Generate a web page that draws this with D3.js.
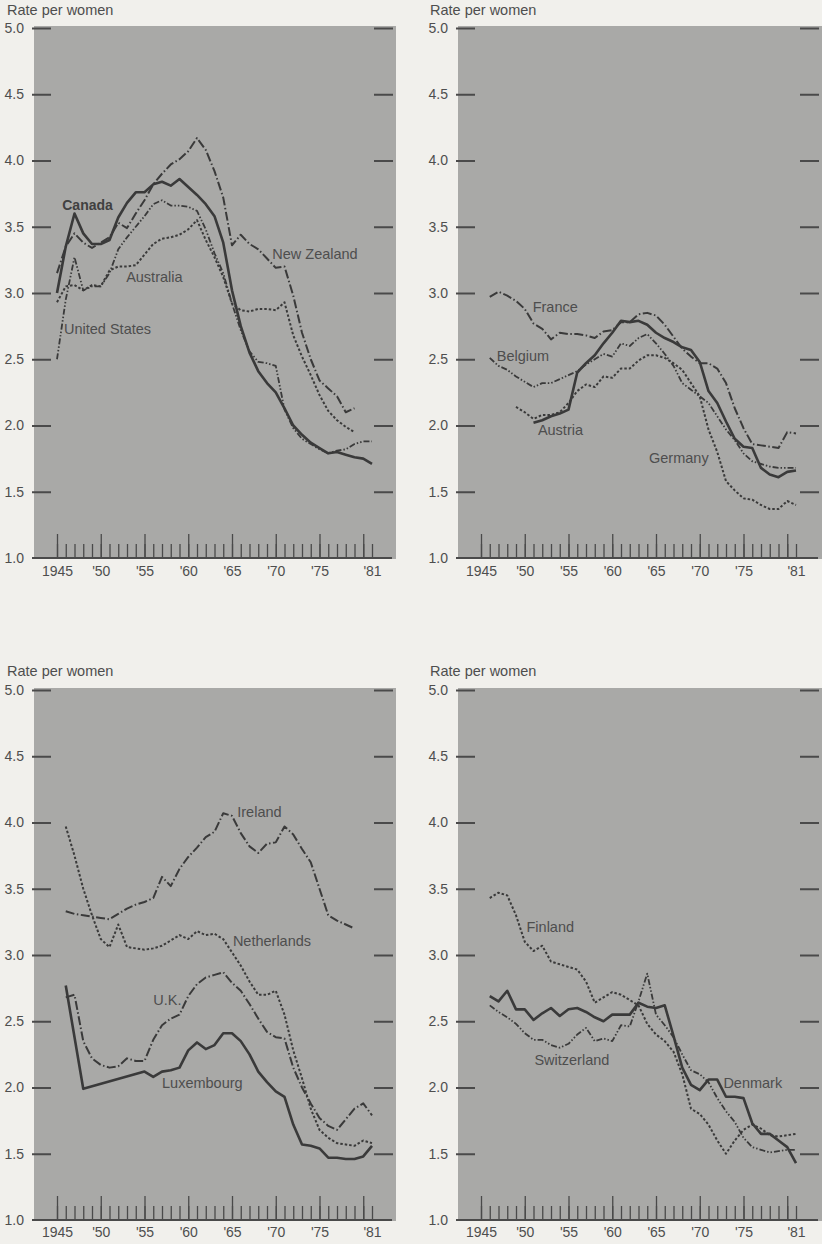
<!DOCTYPE html>
<html lang="en">
<head>
<meta charset="UTF-8">
<title>Total fertility rate, 1945-1981</title>
<script src="https://cdn.jsdelivr.net/npm/d3@7/dist/d3.min.js"></script>
<style>
    body { margin: 0; background: #f1f0ec; }
    svg { display: block; font-family: "Liberation Sans", Arial, sans-serif; }
</style>
</head>
<body>
<div id="chart"></div>
<script>
// ---- data (rate per woman, one value per year 1945..1981, null = no point) ----
const years = [1945, 1946, 1947, 1948, 1949, 1950, 1951, 1952, 1953, 1954,
               1955, 1956, 1957, 1958, 1959, 1960, 1961, 1962, 1963, 1964,
               1965, 1966, 1967, 1968, 1969, 1970, 1971, 1972, 1973, 1974,
               1975, 1976, 1977, 1978, 1979, 1980, 1981];

const yTicks = [1.0, 1.5, 2.0, 2.5, 3.0, 3.5, 4.0, 4.5, 5.0];
const xLabelYears = [1945, 1950, 1955, 1960, 1965, 1970, 1975, 1981];
const xLabels = ["1945", "'50", "'55", "'60", "'65", "'70", "'75", "'81"];
const majorYears = [1945, 1950, 1955, 1960, 1965, 1970, 1975, 1980];

// panel 1
const canada = [3.00, 3.35, 3.60, 3.45, 3.37, 3.37, 3.40, 3.57, 3.68, 3.76,
                3.76, 3.82, 3.84, 3.81, 3.86, 3.80, 3.74, 3.67, 3.58, 3.38,
                3.02, 2.75, 2.55, 2.41, 2.32, 2.25, 2.13, 2.00, 1.93, 1.87,
                1.83, 1.79, 1.80, 1.78, 1.76, 1.75, 1.71];
const unitedStates = [2.50, 2.95, 3.27, 3.02, 3.05, 3.05, 3.15, 3.33, 3.42, 3.50,
                      3.58, 3.67, 3.70, 3.66, 3.66, 3.65, 3.62, 3.48, 3.30, 3.15,
                      2.92, 2.72, 2.56, 2.48, 2.47, 2.45, 2.12, 1.98, 1.90, 1.86,
                      1.82, 1.79, 1.81, 1.82, 1.86, 1.88, 1.88];
const australia = [2.93, 3.05, 3.06, 3.02, 3.06, 3.05, 3.17, 3.20, 3.20, 3.21,
                   3.29, 3.37, 3.41, 3.42, 3.44, 3.48, 3.55, 3.40, 3.27, 3.12,
                   2.92, 2.87, 2.86, 2.88, 2.88, 2.87, 2.93, 2.68, 2.52, 2.38,
                   2.23, 2.11, 2.04, 1.99, 1.95, null, null];
const newZealand = [3.15, 3.35, 3.45, 3.38, 3.34, 3.38, 3.42, 3.53, 3.49, 3.60,
                    3.70, 3.82, 3.90, 3.97, 4.01, 4.07, 4.17, 4.08, 3.92, 3.72,
                    3.36, 3.44, 3.37, 3.33, 3.26, 3.19, 3.20, 2.98, 2.70, 2.50,
                    2.34, 2.28, 2.22, 2.10, 2.13, null, null];

// panel 2
const france = [null, 2.97, 3.01, 2.98, 2.94, 2.88, 2.77, 2.73, 2.65, 2.70,
                2.69, 2.69, 2.68, 2.66, 2.71, 2.72, 2.78, 2.78, 2.84, 2.85,
                2.83, 2.76, 2.67, 2.58, 2.52, 2.47, 2.47, 2.43, 2.32, 2.13,
                1.98, 1.86, 1.85, 1.84, 1.83, 1.95, 1.94];
const belgium = [null, 2.51, 2.45, 2.42, 2.37, 2.33, 2.29, 2.32, 2.32, 2.35,
                 2.38, 2.41, 2.46, 2.50, 2.54, 2.52, 2.62, 2.60, 2.66, 2.69,
                 2.62, 2.54, 2.45, 2.32, 2.27, 2.22, 2.17, 2.07, 1.97, 1.89,
                 1.79, 1.73, 1.71, 1.69, 1.68, 1.68, 1.68];
const austria = [null, null, null, null, null, null, 2.02, 2.04, 2.07, 2.09,
                 2.12, 2.40, 2.47, 2.53, 2.62, 2.70, 2.79, 2.78, 2.79, 2.76,
                 2.70, 2.66, 2.63, 2.59, 2.57, 2.48, 2.26, 2.17, 2.03, 1.90,
                 1.84, 1.83, 1.68, 1.63, 1.61, 1.65, 1.66];
const germany = [null, null, null, null, 2.14, 2.10, 2.05, 2.08, 2.08, 2.10,
                 2.17, 2.26, 2.31, 2.29, 2.37, 2.36, 2.43, 2.43, 2.49, 2.53,
                 2.53, 2.51, 2.47, 2.42, 2.32, 2.22, 1.97, 1.80, 1.58, 1.51,
                 1.45, 1.44, 1.40, 1.37, 1.37, 1.43, 1.40];

// panel 3
const ireland = [null, 3.33, 3.31, 3.30, 3.29, 3.28, 3.27, 3.31, 3.35, 3.38,
                 3.40, 3.43, 3.59, 3.52, 3.65, 3.74, 3.81, 3.89, 3.93, 4.07,
                 4.05, 3.92, 3.82, 3.77, 3.84, 3.85, 3.97, 3.91, 3.80, 3.70,
                 3.50, 3.30, 3.26, 3.23, 3.20, null, null];
const netherlands = [null, 3.97, 3.75, 3.50, 3.30, 3.12, 3.06, 3.23, 3.06, 3.05,
                     3.04, 3.05, 3.07, 3.11, 3.15, 3.12, 3.18, 3.15, 3.16, 3.12,
                     3.02, 2.92, 2.80, 2.70, 2.70, 2.73, 2.55, 2.28, 2.07, 1.84,
                     1.68, 1.62, 1.58, 1.57, 1.56, 1.60, 1.58];
const uk = [null, 2.68, 2.70, 2.35, 2.22, 2.17, 2.15, 2.16, 2.22, 2.20,
            2.20, 2.36, 2.47, 2.52, 2.55, 2.69, 2.78, 2.83, 2.85, 2.87,
            2.79, 2.73, 2.63, 2.52, 2.42, 2.38, 2.37, 2.15, 2.00, 1.88,
            1.77, 1.71, 1.68, 1.76, 1.84, 1.88, 1.79];
const luxembourg = [null, 2.77, null, 1.99, null, null, null, null, null, null,
                    2.12, 2.08, 2.12, 2.13, 2.15, 2.28, 2.34, 2.29, 2.32, 2.41,
                    2.41, 2.35, 2.25, 2.12, 2.04, 1.97, 1.93, 1.72, 1.57, 1.56,
                    1.54, 1.47, 1.47, 1.46, 1.46, 1.48, 1.56];

// panel 4
const finland = [null, 3.43, 3.47, 3.45, 3.30, 3.10, 3.03, 3.07, 2.95, 2.93,
                 2.91, 2.89, 2.80, 2.64, 2.68, 2.72, 2.70, 2.66, 2.62, 2.48,
                 2.40, 2.35, 2.27, 2.10, 1.84, 1.80, 1.72, 1.60, 1.50, 1.60,
                 1.68, 1.72, 1.69, 1.64, 1.63, 1.64, 1.65];
const denmark = [null, 2.69, 2.65, 2.73, 2.59, 2.59, 2.51, 2.56, 2.60, 2.54,
                 2.59, 2.60, 2.57, 2.53, 2.50, 2.55, 2.55, 2.55, 2.64, 2.61,
                 2.60, 2.62, 2.39, 2.15, 2.02, 1.98, 2.06, 2.06, 1.93, 1.93,
                 1.92, 1.73, 1.65, 1.65, 1.60, 1.55, 1.43];
const switzerland = [null, 2.62, 2.57, 2.53, 2.48, 2.41, 2.36, 2.36, 2.32, 2.30,
                     2.33, 2.40, 2.45, 2.35, 2.37, 2.35, 2.47, 2.46, 2.65, 2.86,
                     2.55, 2.47, 2.38, 2.25, 2.13, 2.10, 2.04, 1.92, 1.82, 1.74,
                     1.62, 1.55, 1.53, 1.51, 1.52, 1.53, 1.53];

// ---- line styles ----
const styles = {
    solid:   { width: 2.6, dash: null },
    dashDot: { width: 2, dash: "9,2.5,1.5,2.5" },
    dashDotDot: { width: 1.8, dash: "6,2,1.5,2,1.5,2" },
    dotted:  { width: 2, dash: "2.5,2" }
};

// ---- panel layout ----
const panels = [
    { col: 0, row: 0, series: [
        { name: "Canada", values: canada, style: "solid", lx: 1945.6, ly: 3.63, bold: true },
        { name: "United States", values: unitedStates, style: "dashDotDot", lx: 1945.8, ly: 2.69 },
        { name: "Australia", values: australia, style: "dotted", lx: 1952.9, ly: 3.08 },
        { name: "New Zealand", values: newZealand, style: "dashDot", lx: 1969.6, ly: 3.26 }
    ]},
    { col: 1, row: 0, series: [
        { name: "France", values: france, style: "dashDot", lx: 1950.9, ly: 2.86 },
        { name: "Belgium", values: belgium, style: "dashDotDot", lx: 1946.8, ly: 2.49 },
        { name: "Austria", values: austria, style: "solid", lx: 1951.5, ly: 1.93 },
        { name: "Germany", values: germany, style: "dotted", lx: 1964.2, ly: 1.72 }
    ]},
    { col: 0, row: 1, series: [
        { name: "Ireland", values: ireland, style: "dashDot", lx: 1965.6, ly: 4.04 },
        { name: "Netherlands", values: netherlands, style: "dotted", lx: 1965.1, ly: 3.07 },
        { name: "U.K.", values: uk, style: "dashDot", lx: 1956.0, ly: 2.62 },
        { name: "Luxembourg", values: luxembourg, style: "solid", lx: 1957.0, ly: 2.00 }
    ]},
    { col: 1, row: 1, series: [
        { name: "Finland", values: finland, style: "dotted", lx: 1950.2, ly: 3.17 },
        { name: "Switzerland", values: switzerland, style: "dashDotDot", lx: 1951.1, ly: 2.17 },
        { name: "Denmark", values: denmark, style: "solid", lx: 1972.7, ly: 2.00 }
    ]}
];

const width = 822, height = 1244;
const cols = [
    { grayL: 34, grayR: 396, x0: 57, x1: 372, textX: 7 },
    { grayL: 458, grayR: 822, x0: 481, x1: 796, textX: 430 }
];
const rows = [
    { top: 28, bottom: 558, titleY: 15, labelY: 577 },
    { top: 690, bottom: 1220, titleY: 676, labelY: 1238 }
];

const lineColor = "#3a3a3a";
const textColor = "#4e4e4e";

const svg = d3.select("#chart").append("svg")
    .attr("width", width)
    .attr("height", height);

svg.append("rect")
    .attr("width", width).attr("height", height)
    .attr("fill", "#f1f0ec");

panels.forEach(p => {
    const c = cols[p.col], r = rows[p.row];
    const g = svg.append("g");

    const x = d3.scaleLinear().domain([1945, 1981]).range([c.x0, c.x1]);
    const y = d3.scaleLinear().domain([1, 5]).range([r.bottom, r.top]);

    // gray plotting area
    g.append("rect")
        .attr("x", c.grayL)
        .attr("y", r.top - 2)
        .attr("width", c.grayR - c.grayL)
        .attr("height", r.bottom - r.top + 3)
        .attr("fill", "#a9a9a7");

    // axis title
    g.append("text")
        .attr("x", c.textX)
        .attr("y", r.titleY)
        .attr("fill", textColor)
        .style("font-size", "14.5px")
        .text("Rate per women");

    // left y axis (ticks reach into the gray)
    const yAxisL = g.append("g")
        .attr("transform", `translate(${c.grayL + 17},0)`)
        .call(d3.axisLeft(y).tickValues(yTicks).tickSize(19).tickPadding(8)
            .tickFormat(d3.format(".1f")));
    // right y axis, ticks only
    const yAxisR = g.append("g")
        .attr("transform", `translate(${c.grayR - 22},0)`)
        .call(d3.axisRight(y).tickValues(yTicks.filter(v => v > 1)).tickSize(19).tickFormat(""));

    [yAxisL, yAxisR].forEach(a => {
        a.select(".domain").remove();
        a.selectAll(".tick line").attr("stroke", "#4a4a4a").attr("stroke-width", 2);
        a.selectAll("text")
            .attr("fill", textColor)
            .style("font-size", "14px")
            .style("font-family", "'Liberation Sans', Arial, sans-serif");
    });
    yAxisL.select(".tick line").attr("opacity", 0); // 1.0 tick sits on the baseline

    // bottom axis: baseline, yearly ticks, 5-year ticks
    g.append("line")
        .attr("x1", c.grayL - 2).attr("x2", c.grayR - 4)
        .attr("y1", r.bottom).attr("y2", r.bottom)
        .attr("stroke", "#4a4a4a").attr("stroke-width", 2);

    const minor = g.append("g")
        .attr("transform", `translate(0,${r.bottom})`)
        .call(d3.axisBottom(x).tickValues(years).tickSize(-14).tickFormat(""));
    const major = g.append("g")
        .attr("transform", `translate(0,${r.bottom})`)
        .call(d3.axisBottom(x).tickValues(majorYears).tickSize(-24).tickFormat(""));
    const labels = g.append("g")
        .attr("transform", `translate(0,${r.labelY - 11})`)
        .call(d3.axisBottom(x).tickValues(xLabelYears).tickSize(0).tickPadding(0)
            .tickFormat((d, i) => xLabels[i]));

    [minor, major, labels].forEach(a => a.select(".domain").remove());
    [minor, major].forEach(a => a.selectAll(".tick line")
        .attr("stroke", "#4a4a4a").attr("stroke-width", 1.3));
    labels.selectAll("text")
        .attr("fill", textColor)
        .style("font-size", "14px")
        .style("font-family", "'Liberation Sans', Arial, sans-serif");

    // lines
    const line = d3.line()
        .x(d => x(d.year))
        .y(d => y(d.value));

    p.series.forEach(s => {
        const pts = years.map((yr, i) => ({ year: yr, value: s.values[i] }))
            .filter(d => d.value !== null);
        const st = styles[s.style];
        g.append("path")
            .datum(pts)
            .attr("d", line)
            .attr("fill", "none")
            .attr("stroke", lineColor)
            .attr("stroke-width", st.width)
            .attr("stroke-linejoin", "round")
            .attr("stroke-dasharray", st.dash);

        g.append("text")
            .attr("x", x(s.lx))
            .attr("y", y(s.ly))
            .attr("fill", s.bold ? "#404040" : textColor)
            .style("font-size", s.bold ? "14px" : "14.5px")
            .style("font-weight", s.bold ? "bold" : "normal")
            .text(s.name);
    });
});
</script>
</body>
</html>
